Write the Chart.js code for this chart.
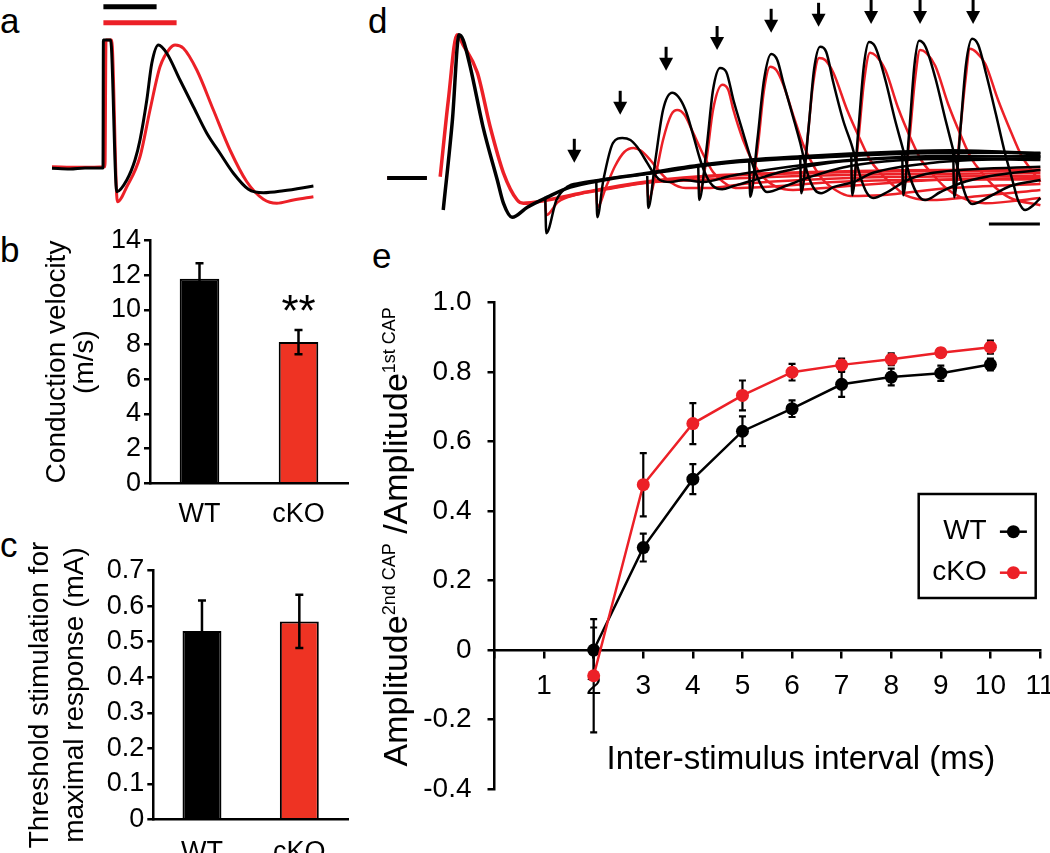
<!DOCTYPE html>
<html>
<head>
<meta charset="utf-8">
<title>CAP conduction figure</title>
<script src="https://cdn.jsdelivr.net/npm/chart.js@4.4.1/dist/chart.umd.min.js"></script>
<style>
  html, body { margin: 0; padding: 0; background: #fff; }
  body { position: relative; width: 1050px; height: 853px; overflow: hidden; }
  canvas { position: absolute; }
  .panel { position: absolute; font-family: "Liberation Sans", Arial, sans-serif; font-size: 35px; line-height: 35px; color: #000; }
</style>
</head>
<body>
<div class="panel" style="left:0px;top:3px">a</div>
<div class="panel" style="left:0px;top:232px">b</div>
<div class="panel" style="left:0px;top:527px">c</div>
<div class="panel" style="left:368px;top:3px">d</div>
<div class="panel" style="left:372px;top:238px">e</div>

<canvas id="capA" width="290" height="215" style="left:40px;top:0px"></canvas>
<canvas id="velB" width="350" height="300" style="left:0px;top:225px"></canvas>
<canvas id="thrC" width="350" height="323" style="left:0px;top:530px"></canvas>
<canvas id="pairD" width="665" height="240" style="left:380px;top:0px"></canvas>
<canvas id="ratioE" width="680" height="593" style="left:370px;top:260px"></canvas>

<script>
const FONT = '"Liberation Sans", Arial, sans-serif';
const BLACK = '#000000';
const RED = '#ec2027';
const BAR_RED = '#ee3323';

// a: single CAP, time (ms) / amplitude (mV)
const aTraceWT = [[-2.55, -0.01], [-1.65, -0.04], [-0.9, 0], [0, 0], [0.02, 5.12], [0.38, 5.12], [0.69, -0.95], [1.19, -0.48], [1.6, 0.32], [1.85, 1.12], [2.19, 2.72], [2.44, 4.19], [2.77, 4.92], [3.19, 4.59], [3.85, 3.52], [4.52, 2.45], [5.19, 1.39], [5.85, 0.59], [6.52, -0.21], [7.27, -0.85], [8.02, -0.99], [9.02, -0.91], [10.52, -0.72]];
const aTraceKO = [[-2.55, 0.05], [-1.2, 0.03], [0.1, 0.05], [0.15, 5.12], [0.43, 5.12], [0.72, -1.35], [1.19, -0.75], [1.85, 0.45], [2.35, 2.32], [2.85, 4.05], [3.35, 4.79], [3.6, 4.92], [4.02, 4.79], [4.69, 3.92], [5.52, 2.32], [6.35, 0.72], [7.19, -0.55], [8.02, -1.25], [8.69, -1.41], [9.52, -1.28], [10.52, -1.15]];
const aLatencyWT = [[0.02, 6.45], [2.68, 6.45]];
const aLatencyKO = [[0.02, 5.81], [3.68, 5.81]];

// b, c: group means and SEM
const groups = ['WT', 'cKO'];
const velocityMean = [11.8, 8.15];
const velocitySem = [0.9, 0.7];
const bYLabels = ['0', '2', '4', '6', '8', '10', '12', '14'];
const thresholdMean = [0.53, 0.557];
const thresholdSem = [0.086, 0.075];
const cYLabels = ['0', '0.1', '0.2', '0.3', '0.4', '0.5', '0.6', '0.7'];

// d: paired-pulse traces, time (ms) / amplitude (mV)
const dBaseline = [[-1.1, 0], [-0.32, 0]];
const dFirstWT = [[0, -0.8], [0.18, 1.45], [0.31, 3.58], [0.39, 3.45], [0.53, 2.78], [0.78, 1.28], [1.06, -0.05], [1.18, -0.63], [1.35, -0.98], [1.65, -0.73], [2.04, -0.48], [2.49, -0.23], [3.14, -0.05], [3.8, 0.08], [5.1, 0.33], [6.02, 0.45], [7.0, 0.53], [7.98, 0.6], [8.96, 0.65], [9.94, 0.68], [10.92, 0.65], [11.71, 0.6]];
const dFirstKO = [[-0.06, 0.03], [0.1, 1.95], [0.27, 3.58], [0.39, 3.33], [0.67, 2.63], [0.92, 1.28], [1.18, 0.13], [1.45, -0.55], [1.57, -0.63], [2.04, -0.55], [2.82, -0.35], [3.8, -0.13], [5.04, 0.03], [7.0, 0.13], [8.96, 0.18], [11.71, 0.2]];
const dPairWT = [
  [[2.0, -0.47], [2.02, -1.38], [2.22, -0.55], [2.43, -0.22], [2.7, -0.12], [3.2, -0.02], [4.0, 0.1], [5.5, 0.36], [7.5, 0.52], [9.5, 0.62], [11.71, 0.63]],
  [[3.0, -0.05], [3.02, -0.98], [3.14, -0.05], [3.33, 0.88], [3.51, 1.0], [3.67, 0.95], [3.8, 0.78], [4.0, 0.38], [4.12, 0.13], [4.25, -0.05], [4.45, -0.1], [4.71, -0.05], [5.1, -0.1], [5.63, 0.05], [6.61, 0.25], [7.98, 0.45], [9.94, 0.55], [11.71, 0.53]],
  [[4.0, 0.05], [4.02, -0.75], [4.16, 0.45], [4.31, 1.7], [4.49, 2.13], [4.61, 2.03], [4.75, 1.7], [4.9, 1.08], [5.04, 0.45], [5.16, 0.05], [5.29, -0.2], [5.47, -0.28], [5.69, -0.2], [6.02, -0.08], [6.61, 0.15], [7.59, 0.38], [8.96, 0.5], [11.71, 0.55]],
  [[5.0, 0.3], [5.02, -0.55], [5.16, 0.7], [5.29, 2.2], [5.43, 2.75], [5.55, 2.65], [5.69, 1.95], [5.88, 1.13], [6.02, 0.53], [6.14, 0.08], [6.35, -0.35], [6.75, -0.18], [7.2, 0.03], [7.98, 0.3], [9.94, 0.48], [11.71, 0.45]],
  [[6.0, 0.43], [6.02, -0.47], [6.16, 0.95], [6.29, 2.45], [6.43, 3.1], [6.55, 2.95], [6.67, 2.38], [6.86, 1.53], [7.0, 0.88], [7.14, 0.13], [7.29, -0.3], [7.41, -0.38], [7.65, -0.23], [8.04, -0.1], [8.43, 0.13], [9.61, 0.38], [11.71, 0.5]],
  [[7.0, 0.53], [7.02, -0.38], [7.16, 1.2], [7.27, 2.7], [7.39, 3.28], [7.51, 3.15], [7.65, 2.38], [7.84, 1.45], [8.02, 0.78], [8.18, 0.03], [8.31, -0.38], [8.43, -0.5], [8.71, -0.35], [9.1, -0.05], [9.61, 0.13], [11.71, 0.28]],
  [[8.0, 0.6], [8.02, -0.43], [8.14, 1.2], [8.25, 2.83], [8.35, 3.4], [8.47, 3.28], [8.67, 2.45], [8.86, 1.45], [9.02, 0.7], [9.16, 0], [9.31, -0.43], [9.45, -0.55], [9.75, -0.35], [10.14, -0.13], [10.73, 0.05], [11.71, 0.2]],
  [[9.0, 0.65], [9.02, -0.43], [9.14, 1.2], [9.24, 2.83], [9.33, 3.43], [9.45, 3.3], [9.65, 2.5], [9.84, 1.5], [10.0, 0.7], [10.14, 0], [10.25, -0.45], [10.37, -0.65], [10.73, -0.45], [11.12, -0.2], [11.71, -0.05]],
  [[10.0, 0.68], [10.02, -0.48], [10.14, 1.2], [10.25, 2.83], [10.37, 3.48], [10.49, 3.33], [10.65, 2.58], [10.84, 1.58], [11.0, 0.7], [11.16, -0.05], [11.27, -0.55], [11.41, -0.8], [11.57, -0.68], [11.71, -0.5]]
];
const dPairKO = [
  [[2.0, -0.55], [2.02, -0.93], [2.25, -0.6], [2.6, -0.42], [3.2, -0.28], [4.0, -0.12], [5.0, -0.05], [7.0, 0.05], [9.0, 0.1], [11.71, 0.12]],
  [[3.0, -0.35], [3.02, -0.73], [3.2, -0.2], [3.37, 0.3], [3.55, 0.65], [3.73, 0.75], [3.88, 0.68], [4.06, 0.45], [4.25, 0.15], [4.45, -0.1], [4.75, -0.25], [5.14, -0.25], [6.02, -0.13], [7.98, 0], [11.71, 0.05]],
  [[4.0, -0.15], [4.02, -0.55], [4.16, 0.05], [4.31, 0.95], [4.47, 1.58], [4.59, 1.7], [4.73, 1.58], [4.9, 1.13], [5.1, 0.58], [5.29, 0.15], [5.49, -0.1], [5.73, -0.25], [6.22, -0.23], [7.98, -0.08], [11.71, -0.03]],
  [[5.0, 0.03], [5.02, -0.35], [5.16, 0.45], [5.29, 1.7], [5.47, 2.33], [5.59, 2.2], [5.69, 1.7], [5.88, 0.95], [6.08, 0.38], [6.27, 0.03], [6.55, -0.23], [6.86, -0.3], [7.65, -0.23], [9.61, -0.05], [11.71, 0]],
  [[6.0, 0.08], [6.02, -0.3], [6.16, 0.7], [6.29, 2.2], [6.41, 2.78], [6.53, 2.7], [6.67, 2.33], [6.86, 1.58], [7.06, 0.83], [7.25, 0.33], [7.45, -0.05], [7.69, -0.3], [7.98, -0.45], [8.57, -0.43], [9.94, -0.25], [11.71, -0.15]],
  [[7.0, 0.13], [7.02, -0.3], [7.14, 0.95], [7.25, 2.33], [7.37, 3.0], [7.49, 2.95], [7.65, 2.63], [7.92, 1.7], [8.18, 0.95], [8.37, 0.45], [8.57, 0.13], [8.82, -0.18], [9.06, -0.43], [9.55, -0.55], [10.53, -0.45], [11.71, -0.3]],
  [[8.0, 0.15], [8.02, -0.3], [8.14, 0.95], [8.25, 2.4], [8.37, 3.13], [8.49, 3.05], [8.67, 2.7], [8.92, 1.75], [9.18, 0.95], [9.37, 0.45], [9.57, 0.13], [9.84, -0.23], [10.14, -0.48], [10.63, -0.63], [11.71, -0.5]],
  [[9.0, 0.18], [9.02, -0.3], [9.14, 0.95], [9.25, 2.45], [9.35, 3.2], [9.47, 3.13], [9.65, 2.8], [9.9, 1.85], [10.16, 1.03], [10.35, 0.5], [10.55, 0.15], [10.82, -0.23], [11.12, -0.5], [11.71, -0.68]],
  [[10.0, 0.2], [10.02, -0.3], [10.12, 0.95], [10.24, 2.45], [10.33, 3.23], [10.45, 3.15], [10.63, 2.85], [10.88, 1.95], [11.14, 1.13], [11.33, 0.58], [11.53, 0.2], [11.71, -0.1]]
];
const dArrowTime = [2.57, 3.47, 4.37, 5.37, 6.43, 7.36, 8.39, 9.35, 10.39];
const dArrowTip = [0.38, 1.58, 2.68, 3.2, 3.63, 3.78, 3.85, 3.85, 3.85];
const dScaleBar = [[10.7, -1.15], [11.7, -1.15]]; // 1 ms

// e: second/first CAP amplitude ratio
const intervals = [2, 3, 4, 5, 6, 7, 8, 9, 10];
const ratioWT = [0, 0.295, 0.492, 0.63, 0.695, 0.765, 0.786, 0.797, 0.822];
const semWT = [0.065, 0.04, 0.043, 0.043, 0.024, 0.036, 0.024, 0.022, 0.017];
const ratioKO = [-0.074, 0.476, 0.652, 0.733, 0.8, 0.821, 0.837, 0.856, 0.872];
const semKO = [0.163, 0.091, 0.059, 0.043, 0.024, 0.018, 0.017, 0.012, 0.019];
const eXLabels = ['', '1', '2', '3', '4', '5', '6', '7', '8', '9', '10', '11'];
const eYLabels = ['-0.4', '-0.2', '0', '0.2', '0.4', '0.6', '0.8', '1.0'];

Chart.defaults.font.family = FONT;
Chart.defaults.font.size = 27;
Chart.defaults.color = BLACK;

function trace(points, color, width) {
  return {
    data: points.map(p => ({ x: p[0], y: p[1] })),
    borderColor: color,
    borderWidth: width,
    pointRadius: 0,
    fill: false,
    cubicInterpolationMode: 'monotone',
    borderJoinStyle: 'round'
  };
}

function drawErrorBars(chart, o) {
  const ctx = chart.ctx;
  const yScale = chart.scales.y;
  ctx.save();
  ctx.strokeStyle = BLACK;
  ctx.lineWidth = o.lineWidth;
  chart.data.datasets.forEach((ds, di) => {
    if (!ds.errors) return;
    chart.getDatasetMeta(di).data.forEach((el, i) => {
      const raw = ds.data[i];
      const v = typeof raw === 'number' ? raw : raw.y;
      const top = yScale.getPixelForValue(v + ds.errors[i]);
      const bot = yScale.getPixelForValue(v - ds.errors[i]);
      ctx.beginPath();
      ctx.moveTo(el.x, top); ctx.lineTo(el.x, bot);
      ctx.moveTo(el.x - o.capHalf, top); ctx.lineTo(el.x + o.capHalf, top);
      ctx.moveTo(el.x - o.capHalf, bot); ctx.lineTo(el.x + o.capHalf, bot);
      ctx.stroke();
    });
  });
  ctx.restore();
}

const errorBars = {
  id: 'errorBars',
  beforeDatasetsDraw(chart, args, o) { if (o.under) drawErrorBars(chart, o); },
  afterDatasetsDraw(chart, args, o) { if (!o.under) drawErrorBars(chart, o); }
};

const stars = {
  id: 'stars',
  afterDatasetsDraw(chart, args, o) {
    const ds = chart.data.datasets[0];
    const el = chart.getDatasetMeta(0).data[o.index];
    const y = chart.scales.y.getPixelForValue(ds.data[o.index] + ds.errors[o.index]) - o.gap;
    const ctx = chart.ctx;
    ctx.save();
    ctx.font = o.size + 'px ' + FONT;
    ctx.fillStyle = BLACK;
    ctx.textAlign = 'center';
    ctx.textBaseline = 'middle';
    ctx.fillText(o.text, el.x, y);
    ctx.restore();
  }
};

const arrows = {
  id: 'arrows',
  afterDatasetsDraw(chart, args, o) {
    const { ctx, scales: { x, y } } = chart;
    ctx.save();
    ctx.fillStyle = BLACK;
    ctx.strokeStyle = BLACK;
    ctx.lineWidth = o.shaft;
    o.times.forEach((t, i) => {
      const px = x.getPixelForValue(t);
      const tip = y.getPixelForValue(o.tips[i]);
      ctx.beginPath();
      ctx.moveTo(px, tip - o.length);
      ctx.lineTo(px, tip - o.head + 1);
      ctx.stroke();
      ctx.beginPath();
      ctx.moveTo(px - o.headHalf, tip - o.head);
      ctx.lineTo(px + o.headHalf, tip - o.head);
      ctx.lineTo(px, tip);
      ctx.closePath();
      ctx.fill();
    });
    ctx.restore();
  }
};

// rotated y title with superscripts, and free text in data units
const supTitle = {
  id: 'supTitle',
  afterDraw(chart, args, o) {
    const { ctx, chartArea } = chart;
    ctx.save();
    ctx.translate(chartArea.left - o.offset, (chartArea.top + chartArea.bottom) / 2 + o.shift);
    ctx.rotate(-Math.PI / 2);
    ctx.fillStyle = BLACK;
    ctx.textBaseline = 'alphabetic';
    ctx.textAlign = 'left';
    const fontOf = sup => (sup ? o.supSize : o.size) + 'px ' + FONT;
    let total = 0;
    o.parts.forEach(p => { ctx.font = fontOf(p[1]); total += ctx.measureText(p[0]).width; });
    let pos = -total / 2;
    o.parts.forEach(p => {
      ctx.font = fontOf(p[1]);
      ctx.fillText(p[0], pos, p[1] ? -o.raise : 0);
      pos += ctx.measureText(p[0]).width;
    });
    ctx.restore();
    o.items.forEach(it => {
      ctx.save();
      ctx.font = it.size + 'px ' + FONT;
      ctx.fillStyle = BLACK;
      ctx.textAlign = 'center';
      ctx.textBaseline = 'middle';
      ctx.fillText(it.text, chart.scales.x.getPixelForValue(it.x), chart.scales.y.getPixelForValue(it.y));
      ctx.restore();
    });
  }
};

const boxLegend = {
  id: 'boxLegend',
  afterDraw(chart, args, o) {
    const { ctx, chartArea } = chart;
    const left = chartArea.right - o.right - o.width;
    const top = chartArea.top + o.top;
    ctx.save();
    ctx.lineWidth = 2.5;
    ctx.strokeStyle = BLACK;
    ctx.strokeRect(left, top, o.width, o.height);
    ctx.font = o.fontSize + 'px ' + FONT;
    ctx.textAlign = 'right';
    ctx.textBaseline = 'middle';
    chart.data.datasets.forEach((ds, i) => {
      const y = top + o.rowY[i];
      ctx.fillStyle = BLACK;
      ctx.fillText(ds.label, left + o.textX, y);
      ctx.strokeStyle = ds.borderColor;
      ctx.lineWidth = 2.5;
      ctx.beginPath();
      ctx.moveTo(left + o.markX - 13.5, y);
      ctx.lineTo(left + o.markX + 13.5, y);
      ctx.stroke();
      ctx.fillStyle = ds.borderColor;
      ctx.beginPath();
      ctx.arc(left + o.markX, y, 6.5, 0, Math.PI * 2);
      ctx.fill();
    });
    ctx.restore();
  }
};

const quiet = { legend: { display: false }, tooltip: { enabled: false } };

// ---- a ----
const aSets = [
  trace(aTraceWT, BLACK, 3),
  trace(aTraceKO, RED, 3),
  Object.assign(trace(aLatencyWT, BLACK, 5), { borderCapStyle: 'butt' }),
  Object.assign(trace(aLatencyKO, RED, 5), { borderCapStyle: 'butt' })
];
new Chart(document.getElementById('capA'), {
  type: 'line',
  data: { datasets: aSets },
  options: {
    responsive: false, animation: false, events: [], devicePixelRatio: 1,
    layout: { padding: 0 },
    plugins: quiet,
    scales: {
      x: { type: 'linear', display: false, min: -3.15, max: 11.35 },
      y: { type: 'linear', display: false, min: -1.88, max: 6.72 }
    }
  }
});

// ---- b ----
function barOptions(yMin, yMax, step, labels, title, titlePad, titleLine, yWidth, xHeight, padTop, xPad) {
  return {
    responsive: false, animation: false, events: [], devicePixelRatio: 1,
    layout: { padding: { top: padTop, right: 2, bottom: 0, left: 0 } },
    plugins: Object.assign({}, quiet, {
      errorBars: { capHalf: 4, lineWidth: 2.5, under: false },
      stars: { text: '**', index: 1, size: 44, gap: 16 }
    }),
    scales: {
      x: {
        grid: { display: false },
        border: { color: BLACK, width: 2.5 },
        ticks: { font: { size: 27 }, padding: xPad, color: BLACK },
        afterFit: s => { s.height = xHeight; s.paddingLeft = 0; s.paddingRight = 0; }
      },
      y: {
        min: yMin, max: yMax,
        ticks: { stepSize: step, autoSkip: false, font: { size: 27 }, padding: 3, color: BLACK, callback: (v, i) => labels[i] },
        grid: { drawOnChartArea: false, drawTicks: true, tickLength: 6, color: BLACK, lineWidth: 2.5 },
        border: { color: BLACK, width: 2.5 },
        title: { display: true, text: title, font: { size: 28, lineHeight: titleLine }, padding: { top: titlePad, bottom: 0 }, color: BLACK },
        afterFit: s => { s.width = yWidth; s.paddingTop = 0; s.paddingBottom = 0; }
      }
    }
  };
}

new Chart(document.getElementById('velB'), {
  type: 'bar',
  data: {
    labels: groups,
    datasets: [{ data: velocityMean, errors: velocitySem, backgroundColor: [BLACK, BAR_RED], borderColor: BLACK, borderWidth: 2, barPercentage: 0.4, categoryPercentage: 1 }]
  },
  options: barOptions(0, 14, 2, bYLabels, ['Conduction velocity', '(m/s)'], 43, 1.0, 150, 41.7, 15.7, 7),
  plugins: [errorBars, stars]
});

// ---- c ----
const cOpts = barOptions(0, 0.7, 0.1, cYLabels, ['Threshold stimulation for', 'maximal response (mA)'], 22.7, 1.25, 153.3, 33.7, 40.7, 9);
cOpts.plugins.stars = false;
new Chart(document.getElementById('thrC'), {
  type: 'bar',
  data: {
    labels: groups,
    datasets: [{ data: thresholdMean, errors: thresholdSem, backgroundColor: [BLACK, BAR_RED], borderColor: BLACK, borderWidth: 2, barPercentage: 0.4, categoryPercentage: 1 }]
  },
  options: cOpts,
  plugins: [errorBars]
});

// ---- d ----
const dSets = [trace(dBaseline, BLACK, 4), trace(dFirstWT, BLACK, 3.5)];
dPairWT.forEach(p => dSets.push(trace(p, BLACK, 2.5)));
dPairKO.forEach(p => dSets.push(trace(p, RED, 2.5)));
dSets.push(trace(dFirstKO, RED, 3.5));
dSets.push(trace(dBaseline, RED, 3));
dSets.push(Object.assign(trace(dScaleBar, BLACK, 3), { borderCapStyle: 'butt' }));
new Chart(document.getElementById('pairD'), {
  type: 'line',
  data: { datasets: dSets },
  options: {
    responsive: false, animation: false, events: [], devicePixelRatio: 1,
    layout: { padding: 0 },
    plugins: Object.assign({}, quiet, {
      arrows: { times: dArrowTime, tips: dArrowTip, length: 24, head: 13, headHalf: 7, shaft: 3 }
    }),
    scales: {
      x: { type: 'linear', display: false, min: -1.24, max: 11.8 },
      y: { type: 'linear', display: false, min: -1.55, max: 4.45 }
    }
  },
  plugins: [arrows]
});

// ---- e ----
new Chart(document.getElementById('ratioE'), {
  type: 'line',
  data: {
    datasets: [
      { label: 'WT', order: 1, data: intervals.map((x, i) => ({ x, y: ratioWT[i] })), errors: semWT,
        borderColor: BLACK, backgroundColor: BLACK, pointBackgroundColor: BLACK, pointBorderWidth: 0, pointRadius: 6.5, borderWidth: 2.5, tension: 0 },
      { label: 'cKO', order: 0, data: intervals.map((x, i) => ({ x, y: ratioKO[i] })), errors: semKO,
        borderColor: RED, backgroundColor: RED, pointBackgroundColor: RED, pointBorderWidth: 0, pointRadius: 6.5, borderWidth: 2.5, tension: 0 }
    ]
  },
  options: {
    responsive: false, animation: false, events: [], devicePixelRatio: 1,
    layout: { padding: { top: 42.7, right: 10, bottom: 64, left: 0 } },
    plugins: Object.assign({}, quiet, {
      errorBars: { capHalf: 3.5, lineWidth: 2.2, under: true },
      boxLegend: { right: 4.3, top: 191.3, width: 117, height: 104, textX: 68, markX: 94.7, rowY: [37.7, 78.7], fontSize: 28 },
      supTitle: {
        parts: [['Amplitude', false], ['2nd CAP', true], [' /Amplitude', false], ['1st CAP', true]],
        size: 34, supSize: 18, raise: 12.5, offset: 87.5, shift: -9,
        items: [{ text: 'Inter-stimulus interval (ms)', x: 6.18, y: -0.317, size: 33 }]
      }
    }),
    scales: {
      x: {
        type: 'linear', position: { y: 0 }, min: 0, max: 11,
        ticks: { stepSize: 1, autoSkip: false, maxRotation: 0, font: { size: 28 }, padding: 12, color: BLACK, callback: (v, i) => eXLabels[i] },
        grid: { drawOnChartArea: false, drawTicks: true, tickLength: 7, color: BLACK, lineWidth: 2.5 },
        border: { color: BLACK, width: 2.5 },
        afterFit: s => { s.paddingLeft = 0; s.paddingRight = 0; }
      },
      y: {
        type: 'linear', min: -0.4, max: 1.0,
        ticks: { stepSize: 0.2, autoSkip: false, font: { size: 28 }, padding: 16, color: BLACK, callback: (v, i) => eYLabels[i] },
        grid: { drawOnChartArea: false, drawTicks: true, tickLength: 7, color: BLACK, lineWidth: 2.5 },
        border: { color: BLACK, width: 2.5 },
        afterFit: s => { s.width = 124.5; s.paddingTop = 0; s.paddingBottom = 0; }
      }
    }
  },
  plugins: [errorBars, boxLegend, supTitle]
});
</script>
</body>
</html>
